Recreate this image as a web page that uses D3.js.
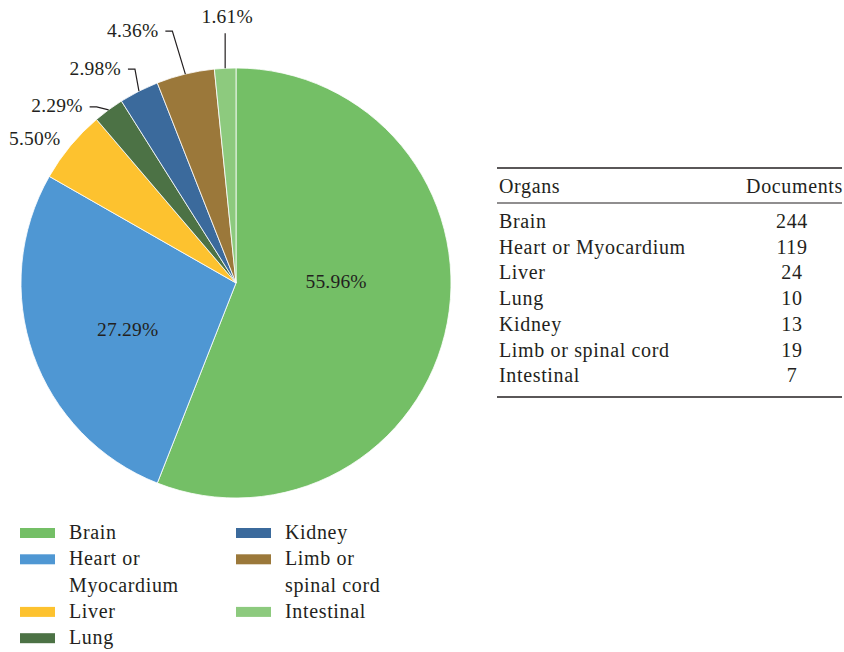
<!DOCTYPE html>
<html><head><meta charset="utf-8">
<script src="https://cdn.jsdelivr.net/npm/d3@7"></script>
<style>body{margin:0;background:#fff} svg{display:block} svg text{font-family:"Liberation Serif","DejaVu Serif",serif;}</style>
</head><body>
<svg id="c" width="844" height="652"></svg>
<script>
// ---- data ----
const organs = ["Brain","Heart or Myocardium","Liver","Lung","Kidney","Limb or spinal cord","Intestinal"];
const documents = [244,119,24,10,13,19,7];
const legendLabels = [["Brain"],["Heart or","Myocardium"],["Liver"],["Lung"],["Kidney"],["Limb or","spinal cord"],["Intestinal"]];
const colors = ["#74bf66","#4f97d3","#fdc22f","#4c7245","#3b6a9c","#9b783a","#8dca7e"];
const tableHeader = ["Organs","Documents"];

// ---- layout ----
const TXT = "#231f20";
const cx = 236, cy = 283, R = 215;
const svg = d3.select("#c");
const total = d3.sum(documents);
const pct = v => (v / total * 100).toFixed(2) + "%";

const pie = d3.pie().sort(null).value(d => d)(documents);
const arc = d3.arc().innerRadius(0).outerRadius(R);
const polar = (a, r) => [r * Math.sin(a), -r * Math.cos(a)];

const g = svg.append("g").attr("transform", `translate(${cx},${cy})`);
g.selectAll("path.slice").data(pie).join("path")
  .attr("class","slice")
  .attr("d", arc)
  .attr("fill", (d,i) => colors[i])
  .attr("stroke", "#fff").attr("stroke-width", 0.8);

const label = (sel, x, y, anchor, size, ls) => sel.append("text").attr("x", x).attr("y", y)
  .attr("text-anchor", anchor).attr("dominant-baseline","central")
  .attr("font-size", size).attr("letter-spacing", ls || 0).attr("fill", TXT);

// inner labels
const inner = {0: {r:107, dx:-5, dy:-21}, 1: {r:118, dx:3, dy:7}};
// outer labels: offsets of the leader elbow from the arc point
const outer = {
  2: {type:"none", dx:-10, dy:-7},
  3: {type:"elbow", dx:-12, dy:-3},
  4: {type:"elbow", dx:-4, dy:-22},
  5: {type:"elbow", dx:-13, dy:-43},
  6: {type:"vert", dx:0, dy:-35}
};
const PS = 19.5, PLS = 0.2;

pie.forEach((d, i) => {
  const mid = (d.startAngle + d.endAngle) / 2;
  if (inner[i]) {
    const c = inner[i];
    const [x, y] = polar(mid, c.r);
    label(g, x + c.dx, y + c.dy, "middle", PS, PLS).text(pct(documents[i]));
  } else if (outer[i]) {
    const c = outer[i];
    const [x0, y0] = polar(mid, R);
    const x1 = x0 + c.dx, y1 = y0 + c.dy;
    if (c.type === "none") {
      label(g, x1, y1, "end", PS, PLS).text(pct(documents[i]));
    } else if (c.type === "elbow") {
      g.append("path").attr("d", d3.line()([[x0,y0],[x1,y1],[x1-7,y1]]))
        .attr("fill","none").attr("stroke", TXT).attr("stroke-width", 1.2);
      label(g, x1 - 14, y1 - 1, "end", PS, PLS).text(pct(documents[i]));
    } else {
      g.append("path").attr("d", d3.line()([[x0,y0],[x1,y1]]))
        .attr("fill","none").attr("stroke", TXT).attr("stroke-width", 1.2);
      label(g, x1 + 2, y1 - 17, "middle", PS, PLS).text(pct(documents[i]));
    }
  }
});

// ---- legend ----
const LS = 0.65;
const legCols = [20, 236], legY0 = 532, legStep = 26.3;
const colItems = [[0,1,2,3],[4,5,6]];
colItems.forEach((items, ci) => {
  let line = 0;
  items.forEach(i => {
    const y = legY0 + line * legStep;
    svg.append("rect").attr("x", legCols[ci]).attr("y", y - 4)
      .attr("width", 35).attr("height", 10).attr("fill", colors[i]);
    legendLabels[i].forEach((s, k) => {
      label(svg, legCols[ci] + 49, y + k * legStep, "start", 20, LS).text(s);
    });
    line += legendLabels[i].length;
  });
});

// ---- table ----
const tx0 = 497, tx1 = 842, numX = 792;
const rowY = d3.scaleLinear().domain([0, 1]).range([221, 246.7]);
const tbl = svg.append("g");
tbl.append("line").attr("x1",tx0).attr("x2",tx1).attr("y1",168).attr("y2",168).attr("stroke",TXT).attr("stroke-width",1.4);
tbl.append("line").attr("x1",tx0).attr("x2",tx1).attr("y1",203).attr("y2",203).attr("stroke",TXT).attr("stroke-width",1.2);
tbl.append("line").attr("x1",tx0).attr("x2",tx1).attr("y1",397).attr("y2",397).attr("stroke",TXT).attr("stroke-width",1.6);
label(tbl, 499, 186, "start", 20, LS).text(tableHeader[0]);
label(tbl, 843, 186, "end", 20, LS).text(tableHeader[1]);
organs.forEach((o, i) => {
  label(tbl, 499, rowY(i), "start", 20, LS).text(o);
  label(tbl, numX, rowY(i), "middle", 20, LS).text(documents[i]);
});
</script>
</body></html>
